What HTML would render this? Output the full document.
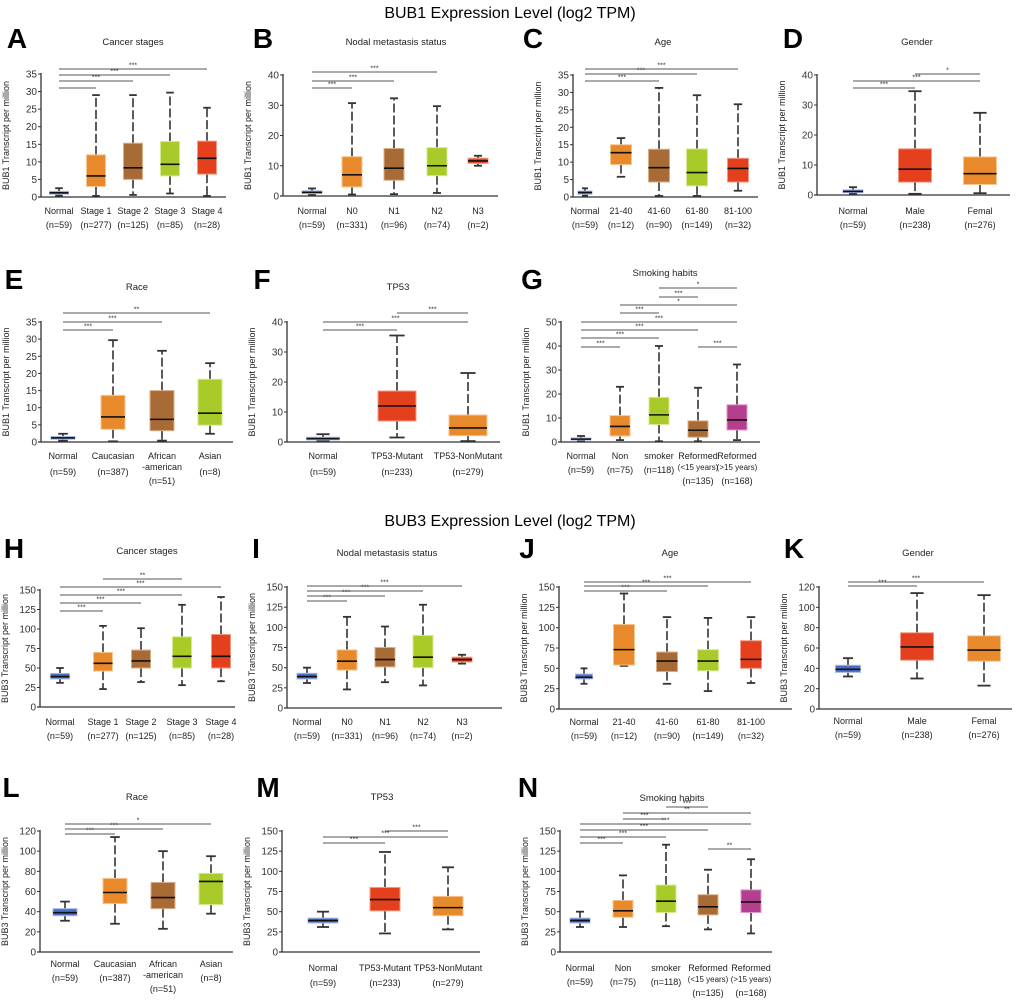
<!DOCTYPE html>
<html><head><meta charset="utf-8">
<style>
html,body{margin:0;padding:0;background:#fff;}
svg{display:block;font-family:"Liberation Sans",Arial,sans-serif;}
</style></head>
<body>
<svg id="fig" width="1020" height="1002" viewBox="0 0 1020 1002" xmlns="http://www.w3.org/2000/svg">
<text x="510" y="18" text-anchor="middle" font-size="16">BUB1 Expression Level (log2 TPM)</text>
<text x="510" y="526" text-anchor="middle" font-size="16">BUB3 Expression Level (log2 TPM)</text>
</svg>
<script>
// ---------- data ----------
const A_cats=["Normal","Stage 1","Stage 2","Stage 3","Stage 4"];
const A_n=["(n=59)","(n=277)","(n=125)","(n=85)","(n=28)"];
const A_min=[0.4,0.3,0.6,1,0.3], A_q1=[0.8,3,5,6,6.5], A_med=[1.2,6,8.3,9.3,11], A_q3=[1.6,12,15.3,15.8,15.9], A_max=[2.5,29,29,29.7,25.4];
const A_ticks=[0,5,10,15,20,25,30,35];
const A_sig=[[0,1,""],[0,2,"***"],[0,3,"***"],[0,4,"***"]];

const B_cats=["Normal","N0","N1","N2","N3"];
const B_n=["(n=59)","(n=331)","(n=96)","(n=74)","(n=2)"];
const B_min=[0.3,0.5,0.6,1,10], B_q1=[0.8,3,5.2,6.7,10.8], B_med=[1.2,7,9.2,10,11.6], B_q3=[1.7,13,15.7,16,12.5], B_max=[2.5,30.7,32.3,29.7,13.3];
const B_ticks=[0,10,20,30,40];
const B_sig=[[0,1,"***"],[0,2,"***"],[0,3,"***"]];

const C_cats=["Normal","21-40","41-60","61-80","81-100"];
const C_n=["(n=59)","(n=12)","(n=90)","(n=149)","(n=32)"];
const C_min=[0.4,5.8,0.3,0.3,1.8], C_q1=[0.8,9.3,4.3,3.2,4.3], C_med=[1.3,12.7,8.4,7,8.2], C_q3=[1.7,15,13.7,13.8,11.1], C_max=[2.5,16.9,31.3,29.2,26.6];
const C_ticks=[0,5,10,15,20,25,30,35];
const C_sig=[[0,2,"***"],[0,3,"***"],[0,4,"***"]];

const D_cats=["Normal","Male","Femal"];
const D_n=["(n=59)","(n=238)","(n=276)"];
const D_min=[0.4,0.4,0.6], D_q1=[0.8,4.3,3.5], D_med=[1.2,8.6,7.1], D_q3=[1.7,15.4,12.7], D_max=[2.6,34.6,27.4];
const D_ticks=[0,10,20,30,40];
const D_sig=[[0,1,"***"],[0,2,"***"],[1,2,"*"]];

const E_cats=["Normal","Caucasian","African\n-american","Asian"];
const E_n=["(n=59)","(n=387)","(n=51)","(n=8)"];
const E_min=[0.4,0.2,0.4,2.4], E_q1=[0.8,3.7,3.3,4.9], E_med=[1.2,7.3,6.6,8.4], E_q3=[1.6,13.6,15,18.3], E_max=[2.4,29.7,26.6,23];
const E_ticks=[0,5,10,15,20,25,30,35];
const E_sig=[[0,1,"***"],[0,2,"***"],[0,3,"**"]];

const F_cats=["Normal","TP53-Mutant","TP53-NonMutant"];
const F_n=["(n=59)","(n=233)","(n=279)"];
const F_min=[0.3,1.5,0.3], F_q1=[0.7,7,2.1], F_med=[1.1,12,4.7], F_q3=[1.6,17,9], F_max=[2.6,35.5,23];
const F_ticks=[0,10,20,30,40];
const F_sig=[[0,1,"***"],[0,2,"***"],[1,2,"***"]];

const G_cats=["Normal","Non","smoker","Reformed\n(<15 years)","Reformed\n(>15 years)"];
const G_n=["(n=59)","(n=75)","(n=118)","(n=135)","(n=168)"];
const G_min=[0.4,0.8,0.3,0.3,0.8], G_q1=[0.8,2.5,7.3,2,5], G_med=[1.2,6.5,11.3,4.9,9.2], G_q3=[1.7,11,18.6,8.8,15.5], G_max=[2.5,23,40,22.6,32.3];
const G_ticks=[0,10,20,30,40,50];
const G_sig=[[0,1,"***"],[3,4,"***"],[0,2,"***"],[0,3,"***"],[0,4,"***"],[1,2,"***"],[1,4,"*"],[2,3,"***"],[2,4,"*"]];

const H_cats=["Normal","Stage 1","Stage 2","Stage 3","Stage 4"];
const H_n=["(n=59)","(n=277)","(n=125)","(n=85)","(n=28)"];
const H_min=[31,23,32,28,33], H_q1=[36,46,50,50,50], H_med=[39,56,59,65,65], H_q3=[43,70,73,90,93], H_max=[50,104,101,131,141];
const H_ticks=[0,25,50,75,100,125,150];
const H_sig=[[0,1,"***"],[0,2,"***"],[0,3,"***"],[0,4,"***"],[1,3,"**"]];

const I_cats=["Normal","N0","N1","N2","N3"];
const I_n=["(n=59)","(n=331)","(n=96)","(n=74)","(n=2)"];
const I_min=[31,23,32,28,55], I_q1=[36,47,51,50,57], I_med=[39,58,60,63,60], I_q3=[43,72,75,90,63], I_max=[50,113,101,128,66];
const I_ticks=[0,25,50,75,100,125,150];
const I_sig=[[0,1,"***"],[0,2,"***"],[0,3,"***"],[0,4,"***"]];

const J_cats=["Normal","21-40","41-60","61-80","81-100"];
const J_n=["(n=59)","(n=12)","(n=90)","(n=149)","(n=32)"];
const J_min=[31,53,31,22,32], J_q1=[37,54,46,47,50], J_med=[39,73,59,59,61], J_q3=[43,104,70,73,84], J_max=[50,142,113,112,113];
const J_ticks=[0,25,50,75,100,125,150];
const J_sig=[[0,2,"***"],[0,3,"***"],[0,4,"***"]];

const K_cats=["Normal","Male","Femal"];
const K_n=["(n=59)","(n=238)","(n=276)"];
const K_min=[32,30,23], K_q1=[36,48,47], K_med=[39,61,58], K_q3=[43,75,72], K_max=[50,114,112];
const K_ticks=[0,20,40,60,80,100,120];
const K_sig=[[0,1,"***"],[0,2,"***"]];

const L_cats=["Normal","Caucasian","African\n-american","Asian"];
const L_n=["(n=59)","(n=387)","(n=51)","(n=8)"];
const L_min=[31,28,23,38], L_q1=[36,48,43,47], L_med=[39,59,54,70], L_q3=[43,73,69,78], L_max=[50,114,100,95];
const L_ticks=[0,20,40,60,80,100,120];
const L_sig=[[0,1,"***"],[0,2,"***"],[0,3,"*"]];

const M_cats=["Normal","TP53-Mutant","TP53-NonMutant"];
const M_n=["(n=59)","(n=233)","(n=279)"];
const M_min=[31,23,28], M_q1=[36,51,45], M_med=[39,65,55], M_q3=[42,80,69], M_max=[50,124,105];
const M_ticks=[0,25,50,75,100,125,150];
const M_sig=[[0,1,"***"],[0,2,"***"],[1,2,"***"]];

const N_cats=["Normal","Non","smoker","Reformed\n(<15 years)","Reformed\n(>15 years)"];
const N_n=["(n=59)","(n=75)","(n=118)","(n=135)","(n=168)"];
const N_min=[31,31,32,28,23], N_q1=[36,43,49,46,49], N_med=[39,51,63,56,62], N_q3=[42,64,83,71,77], N_max=[50,95,133,102,115];
const N_ticks=[0,25,50,75,100,125,150];
const N_sig=[[0,1,"***"],[3,4,"**"],[0,2,"***"],[0,3,"***"],[0,4,"***"],[1,2,"***"],[1,4,"**"],[2,3,"***"]];

// ---------- palettes ----------
const COL={blue:["#4a6ec6","#a9b9e6"],orange:["#e8892b","#f6c693"],brown:["#a86b35","#d9b08a"],green:["#a9cb2a","#d6ea92"],red:["#e5401d","#f39a86"],mag:["#b43f8f","#df98c8"]};

// ---------- layout ----------
const panels=[
 {id:"a",L:"A",lx:17,ly:48,title:"Cancer stages",tx:133,ty:45,ax:41,x1:226,y0:197,yT:74,cx:[59,96,133,170,207],bw:19,cats:A_cats,n:A_n,mn:A_min,q1:A_q1,md:A_med,q3:A_q3,mx:A_max,ticks:A_ticks,sig:A_sig,sigY:[88,81,75,69],labY:214,nGap:13,ytitle:"BUB1 Transcript per million",cols:["blue","orange","brown","green","red"]},
 {id:"b",L:"B",lx:263,ly:48,title:"Nodal metastasis status",tx:396,ty:45,ax:283,x1:498,y0:196,yT:75,cx:[312,352,394,437,478],bw:20,cats:B_cats,n:B_n,mn:B_min,q1:B_q1,md:B_med,q3:B_q3,mx:B_max,ticks:B_ticks,sig:B_sig,sigY:[88,81,72],labY:214,nGap:13,ytitle:"BUB1 Transcript per million",cols:["blue","orange","brown","green","red"]},
 {id:"c",L:"C",lx:533,ly:48,title:"Age",tx:663,ty:45,ax:573,x1:758,y0:197,yT:75,cx:[585,621,659,697,738],bw:21,nbw:14,cats:C_cats,n:C_n,mn:C_min,q1:C_q1,md:C_med,q3:C_q3,mx:C_max,ticks:C_ticks,sig:C_sig,sigY:[81,74,69],labY:214,nGap:13,ytitle:"BUB1 Transcript per million",cols:["blue","orange","brown","green","red"]},
 {id:"d",L:"D",lx:793,ly:48,title:"Gender",tx:917,ty:45,ax:817,x1:1010,y0:195,yT:75,cx:[853,915,980],bw:33,nbw:20,cats:D_cats,n:D_n,mn:D_min,q1:D_q1,md:D_med,q3:D_q3,mx:D_max,ticks:D_ticks,sig:D_sig,sigY:[88,81,74],labY:214,nGap:13,ytitle:"BUB1 Transcript per million",cols:["blue","red","orange"]},
 {id:"e",L:"E",lx:14,ly:289,title:"Race",tx:137,ty:290,ax:41,x1:233,y0:442,yT:322,cx:[63,113,162,210],bw:24,cats:E_cats,n:E_n,mn:E_min,q1:E_q1,md:E_med,q3:E_q3,mx:E_max,ticks:E_ticks,sig:E_sig,sigY:[330,322,313],labY:459,nGap:16,ytitle:"BUB1 Transcript per million",cols:["blue","orange","brown","green"]},
 {id:"f",L:"F",lx:262,ly:289,title:"TP53",tx:398,ty:290,ax:287,x1:500,y0:442,yT:322,cx:[323,397,468],bw:38,nbw:33,cats:F_cats,n:F_n,mn:F_min,q1:F_q1,md:F_med,q3:F_q3,mx:F_max,ticks:F_ticks,sig:F_sig,sigY:[330,322,313],labY:459,nGap:16,ytitle:"BUB1 Transcript per million",cols:["blue","red","orange"]},
 {id:"g",L:"G",lx:532,ly:289,title:"Smoking habits",tx:665,ty:276,ax:561,x1:760,y0:442,yT:322,cx:[581,620,659,698,737],bw:20,cats:G_cats,n:G_n,mn:G_min,q1:G_q1,md:G_med,q3:G_q3,mx:G_max,ticks:G_ticks,sig:G_sig,sigY:[347,347,338,330,322,313,305,297,288],labY:459,nGap:14,ytitle:"BUB1 Transcript per million",cols:["blue","orange","green","brown","mag"]},
 {id:"h",L:"H",lx:14,ly:558,title:"Cancer stages",tx:147,ty:554,ax:40,x1:235,y0:707,yT:590,cx:[60,103,141,182,221],bw:19,cats:H_cats,n:H_n,mn:H_min,q1:H_q1,md:H_med,q3:H_q3,mx:H_max,ticks:H_ticks,sig:H_sig,sigY:[611,603,595,587,579],labY:725,nGap:13,ytitle:"BUB3 Transcript per million",cols:["blue","orange","brown","green","red"]},
 {id:"i",L:"I",lx:256,ly:558,title:"Nodal metastasis status",tx:387,ty:556,ax:287,x1:502,y0:708,yT:587,cx:[307,347,385,423,462],bw:20,cats:I_cats,n:I_n,mn:I_min,q1:I_q1,md:I_med,q3:I_q3,mx:I_max,ticks:I_ticks,sig:I_sig,sigY:[601,596,591,586],labY:725,nGap:13,ytitle:"BUB3 Transcript per million",cols:["blue","orange","brown","green","red"]},
 {id:"j",L:"J",lx:527,ly:558,title:"Age",tx:670,ty:556,ax:559,x1:792,y0:709,yT:587,cx:[584,624,667,708,751],bw:21,nbw:17,cats:J_cats,n:J_n,mn:J_min,q1:J_q1,md:J_med,q3:J_q3,mx:J_max,ticks:J_ticks,sig:J_sig,sigY:[591,586,582],labY:725,nGap:13,ytitle:"BUB3 Transcript per million",cols:["blue","orange","brown","green","red"]},
 {id:"k",L:"K",lx:794,ly:558,title:"Gender",tx:918,ty:556,ax:819,x1:1012,y0:709,yT:587,cx:[848,917,984],bw:33,nbw:25,cats:K_cats,n:K_n,mn:K_min,q1:K_q1,md:K_med,q3:K_q3,mx:K_max,ticks:K_ticks,sig:K_sig,sigY:[586,582],labY:724,nGap:13,ytitle:"BUB3 Transcript per million",cols:["blue","red","orange"]},
 {id:"l",L:"L",lx:11,ly:797,title:"Race",tx:137,ty:800,ax:40,x1:233,y0:952,yT:831,cx:[65,115,163,211],bw:24,cats:L_cats,n:L_n,mn:L_min,q1:L_q1,md:L_med,q3:L_q3,mx:L_max,ticks:L_ticks,sig:L_sig,sigY:[834,829,824],labY:967,nGap:13,ytitle:"BUB3 Transcript per million",cols:["blue","orange","brown","green"]},
 {id:"m",L:"M",lx:268,ly:797,title:"TP53",tx:382,ty:800,ax:282,x1:480,y0:952,yT:831,cx:[323,385,448],bw:30,cats:M_cats,n:M_n,mn:M_min,q1:M_q1,md:M_med,q3:M_q3,mx:M_max,ticks:M_ticks,sig:M_sig,sigY:[843,837,831],labY:971,nGap:15,ytitle:"BUB3 Transcript per million",cols:["blue","red","orange"]},
 {id:"n",L:"N",lx:528,ly:797,title:"Smoking habits",tx:672,ty:801,ax:560,x1:772,y0:952,yT:831,cx:[580,623,666,708,751],bw:20,cats:N_cats,n:N_n,mn:N_min,q1:N_q1,md:N_med,q3:N_q3,mx:N_max,ticks:N_ticks,sig:N_sig,sigY:[843,849,837,830,824,819,813,807],labY:971,nGap:14,ytitle:"BUB3 Transcript per million",cols:["blue","orange","green","brown","mag"]}
];

const NS="http://www.w3.org/2000/svg";
const svg=document.getElementById('fig');
function mk(tag,attrs,parent){const e=document.createElementNS(NS,tag);for(const k in attrs)e.setAttribute(k,attrs[k]);(parent||svg).appendChild(e);return e;}

panels.forEach(p=>{
  const g=mk('g',{});
  
  
  const top=p.ticks[p.ticks.length-1];
  const y=v=>p.y0-(v/top)*(p.y0-p.yT);
  const lt=mk('text',{x:p.lx,y:p.ly,'text-anchor':'middle','font-size':28,'font-weight':'bold'},g);lt.textContent=p.L;
  
  
  const tt=mk('text',{x:p.tx,y:p.ty,'text-anchor':'middle','font-size':9.5,fill:'#222'},g);tt.textContent=p.title;
  
  
  const yt=mk('text',{x:0,y:0,'text-anchor':'middle','font-size':9,fill:'#222',transform:`translate(${p.ax-32},${(p.y0+p.yT)/2}) rotate(-90)`},g);yt.textContent=p.ytitle;
  
  
  const ya=mk('line',{x1:p.ax,y1:y(top)-1,x2:p.ax,y2:p.y0,stroke:'#333','stroke-width':1.3},g);
  
  
  const xa=mk('line',{x1:p.ax-3,y1:p.y0,x2:p.x1,y2:p.y0,stroke:'#333','stroke-width':1.3},g);
  
  
  p.ticks.forEach(t=>{
    mk('line',{x1:p.ax-3,y1:y(t),x2:p.ax,y2:y(t),stroke:'#333','stroke-width':1},g);
    const tl=mk('text',{x:p.ax-4,y:y(t)+3.5,'text-anchor':'end','font-size':10,fill:'#333'},g);tl.textContent=t;
    
    
  });
  p.cats.forEach((c,i)=>{
    const cx=p.cx[i];const w=(i===0&&p.nbw)?p.nbw:p.bw;
    const col=COL[p.cols[i]];
    const bg=mk('g',{},g);
    
    
    const dash={stroke:'#333','stroke-width':1.6,'stroke-dasharray':'9 3'};
    mk('line',Object.assign({x1:cx,y1:y(p.q3[i]),x2:cx,y2:y(p.mx[i])},dash),bg);
    mk('line',Object.assign({x1:cx,y1:y(p.q1[i]),x2:cx,y2:y(p.mn[i])},dash),bg);
    const cw=Math.max(6,w*0.4);
    mk('line',{x1:cx-cw/2,x2:cx+cw/2,y1:y(p.mx[i]),y2:y(p.mx[i]),stroke:'#333','stroke-width':1.8},bg);
    mk('line',{x1:cx-cw/2,x2:cx+cw/2,y1:y(p.mn[i]),y2:y(p.mn[i]),stroke:'#333','stroke-width':1.8},bg);
    mk('rect',{x:cx-w/2,y:y(p.q3[i]),width:w,height:Math.max(1.5,y(p.q1[i])-y(p.q3[i])),fill:col[0],stroke:col[1],'stroke-width':1},bg);
    mk('line',{x1:cx-w/2,x2:cx+w/2,y1:y(p.md[i]),y2:y(p.md[i]),stroke:'#111','stroke-width':1.6},bg);
    const lines=c.split('\n');
    lines.forEach((ln,k)=>{
      const fs=(k>0&&ln.indexOf('years')>=0)?8:9;
      const t=mk('text',{x:cx,y:p.labY+k*11,'text-anchor':'middle','font-size':fs,fill:'#222'},g);t.textContent=ln;
      
      
    });
    const ny=Math.max(p.labY+p.nGap,p.labY+(lines.length-1)*11+14);
    const nt=mk('text',{x:cx,y:ny,'text-anchor':'middle','font-size':9,fill:'#222'},g);nt.textContent=p.n[i];
    
    
  });
  p.sig.forEach((s,k)=>{
    const sy=p.sigY[k];const xa1=p.cx[s[0]],xa2=p.cx[s[1]];
    const sl=mk('line',{x1:xa1,x2:xa2,y1:sy,y2:sy,stroke:'#555','stroke-width':1},g);
    
    
    if(s[2]){const st=mk('text',{x:(xa1+xa2)/2,y:sy-1.5,'text-anchor':'middle','font-size':7,fill:'#333'},g);st.textContent=s[2];
      
      }
  });
});
</script>
</body></html>
